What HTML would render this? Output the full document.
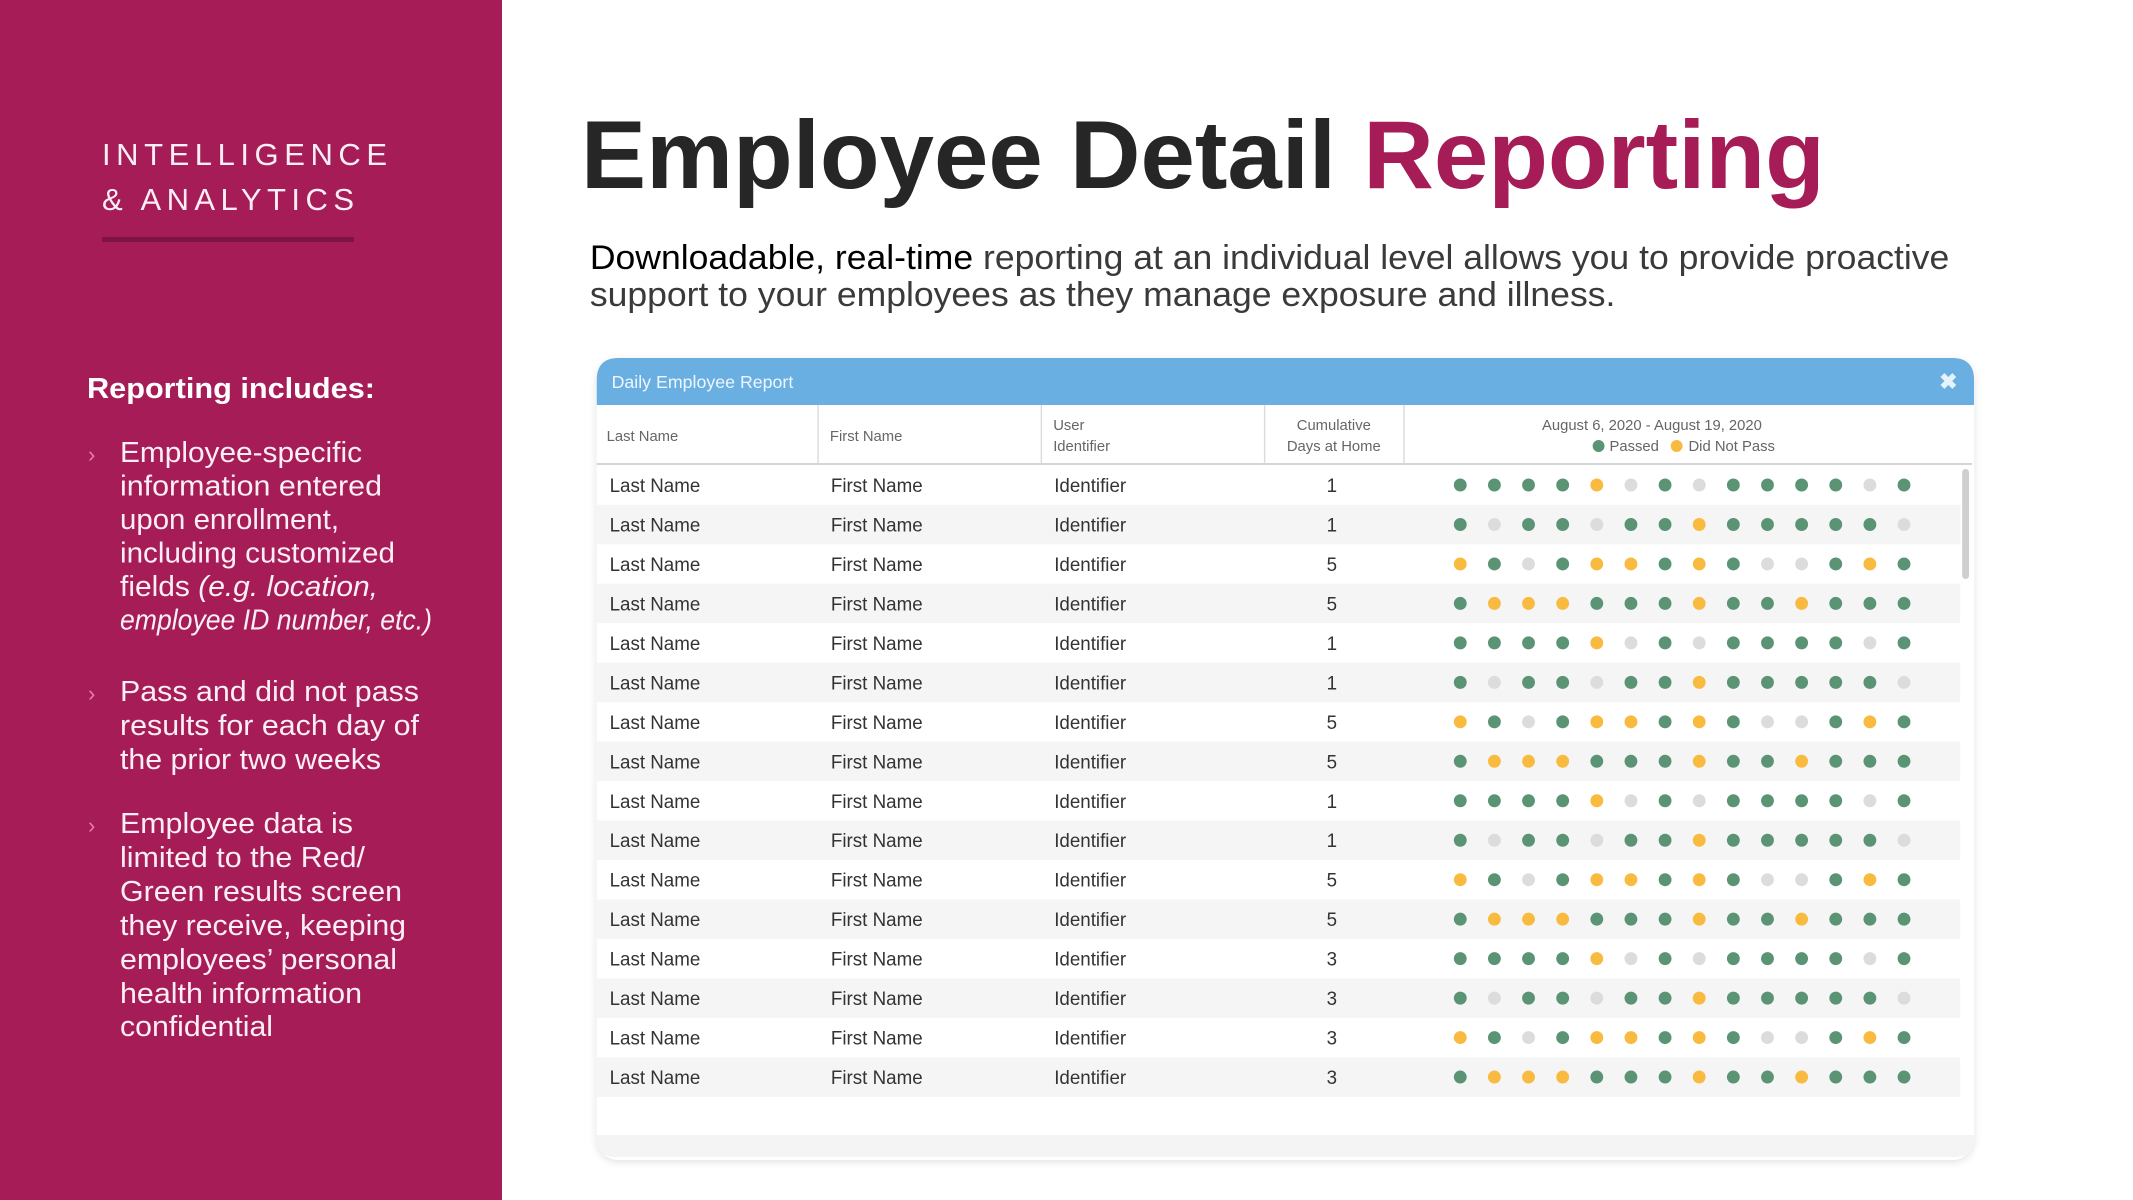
<!DOCTYPE html>
<html><head><meta charset="utf-8"><style>
html,body{margin:0;padding:0;background:#fff;}
svg{display:block;font-family:"Liberation Sans",sans-serif;}
</style></head><body>
<svg id="page" width="2133" height="1200" viewBox="0 0 2133 1200" xmlns="http://www.w3.org/2000/svg">
<defs>
<filter id="sh" x="-5%" y="-5%" width="110%" height="110%"><feDropShadow dx="0" dy="2" stdDeviation="4" flood-color="#000" flood-opacity="0.12"/></filter>
<clipPath id="rowsclip"><rect x="604" y="466" width="1394" height="631"/></clipPath>
</defs>
<rect x="0" y="0" width="502" height="1200" fill="#a51c56"/>
<g fill="#fbeef4" font-size="31">
<text x="102" y="165" textLength="285" lengthAdjust="spacing">INTELLIGENCE</text>
<text x="102" y="210" textLength="252" lengthAdjust="spacing">&amp; ANALYTICS</text>
</g>
<rect x="102" y="237" width="252" height="5" fill="#7d1442"/>
<text x="87" y="398" fill="#fff" font-size="29" font-weight="bold" textLength="288" lengthAdjust="spacingAndGlyphs">Reporting includes:</text>
<g fill="#fbeef4" font-size="29">
<text x="88" y="462" fill="#f07aa8" font-size="22">›</text>
<text x="120" y="462" textLength="242" lengthAdjust="spacingAndGlyphs">Employee-specific</text>
<text x="120" y="495.5" textLength="262" lengthAdjust="spacingAndGlyphs">information entered</text>
<text x="120" y="529" textLength="219" lengthAdjust="spacingAndGlyphs">upon enrollment,</text>
<text x="120" y="562.5" textLength="275" lengthAdjust="spacingAndGlyphs">including customized</text>
<text x="120" y="596" textLength="258" lengthAdjust="spacingAndGlyphs">fields <tspan font-style="italic">(e.g. location,</tspan></text>
<text x="120" y="629.5" font-style="italic" textLength="312" lengthAdjust="spacingAndGlyphs">employee ID number, etc.)</text>
<text x="88" y="701" fill="#f07aa8" font-size="22">›</text>
<text x="120" y="701" textLength="299" lengthAdjust="spacingAndGlyphs">Pass and did not pass</text>
<text x="120" y="735" textLength="299" lengthAdjust="spacingAndGlyphs">results for each day of</text>
<text x="120" y="769" textLength="261" lengthAdjust="spacingAndGlyphs">the prior two weeks</text>
<text x="88" y="833" fill="#f07aa8" font-size="22">›</text>
<text x="120" y="833" textLength="233" lengthAdjust="spacingAndGlyphs">Employee data is</text>
<text x="120" y="867" textLength="245" lengthAdjust="spacingAndGlyphs">limited to the Red/</text>
<text x="120" y="901" textLength="282" lengthAdjust="spacingAndGlyphs">Green results screen</text>
<text x="120" y="935" textLength="286" lengthAdjust="spacingAndGlyphs">they receive, keeping</text>
<text x="120" y="969" textLength="277" lengthAdjust="spacingAndGlyphs">employees’ personal</text>
<text x="120" y="1003" textLength="242" lengthAdjust="spacingAndGlyphs">health information</text>
<text x="120" y="1036" textLength="153" lengthAdjust="spacingAndGlyphs">confidential</text>
</g>
<g transform="scale(0.988 1)">
<text x="588" y="188" font-size="97" font-weight="bold" fill="#262626" textLength="1259" lengthAdjust="spacingAndGlyphs">Employee Detail <tspan fill="#a51c56">Reporting</tspan></text>
<g font-size="34" fill="#3a3a3a">
<text x="597" y="269" textLength="1376" lengthAdjust="spacingAndGlyphs"><tspan fill="#000">Downloadable, real-time</tspan> reporting at an individual level allows you to provide proactive</text>
<text x="597" y="306" textLength="1038" lengthAdjust="spacingAndGlyphs">support to your employees as they manage exposure and illness.</text>
</g>
<g>
<rect x="604" y="358" width="1394" height="802" rx="22" fill="#fff" filter="url(#sh)"/>
<path d="M604 405 V380 Q604 358 626 358 H1976 Q1998 358 1998 380 V405 Z" fill="#6aafe2"/>
<text x="619" y="388" font-size="18" fill="#eef6fd">Daily Employee Report</text>
<text x="1972" y="389" font-size="22" font-weight="bold" fill="#e8f2fb" text-anchor="middle">✖</text>
<g stroke="#dcdcdc" stroke-width="1.5">
<line x1="828" y1="405" x2="828" y2="463"/><line x1="1054" y1="405" x2="1054" y2="463"/><line x1="1280" y1="405" x2="1280" y2="463"/><line x1="1421" y1="405" x2="1421" y2="463"/>
</g>
<line x1="604" y1="464" x2="1996" y2="464" stroke="#d5d5d5" stroke-width="2"/>
<g font-size="15" fill="#666">
<text x="614" y="441">Last Name</text>
<text x="840" y="441">First Name</text>
<text x="1066" y="430">User</text>
<text x="1066" y="451">Identifier</text>
<text x="1350" y="430" text-anchor="middle">Cumulative</text>
<text x="1350" y="451" text-anchor="middle">Days at Home</text>
<text x="1672" y="430" text-anchor="middle">August 6, 2020 - August 19, 2020</text>
<circle cx="1618" cy="446" r="6" fill="#5a9475"/>
<text x="1629" y="451">Passed</text>
<circle cx="1697" cy="446" r="6" fill="#f8bb3f"/>
<text x="1709" y="451">Did Not Pass</text>
</g>
<g id="rows" clip-path="url(#rowsclip)"></g>
<rect x="1986" y="469" width="7" height="110" rx="3.5" fill="#cfcfcf"/>
<path d="M604 1135 H1998 V1138 Q1998 1157 1979 1157 H623 Q604 1157 604 1138 Z" fill="#f4f4f4"/>
</g>
</g>
</svg>
<script>
// 'G' passed, 'Y' did not pass, 'N' no data
const lastNames = ["Last Name","Last Name","Last Name","Last Name","Last Name","Last Name","Last Name","Last Name","Last Name","Last Name","Last Name","Last Name","Last Name","Last Name","Last Name","Last Name","Last Name"];
const cumulativeDays = [1,1,5,5,1,1,5,5,1,1,5,5,3,3,3,3,1];
const statusRows = [
"GGGGYNGNGGGGNG","GNGGNGGYGGGGGN","YGNGYYGYGNNGYG","GYYYGGGYGGYGGG",
"GGGGYNGNGGGGNG","GNGGNGGYGGGGGN","YGNGYYGYGNNGYG","GYYYGGGYGGYGGG",
"GGGGYNGNGGGGNG","GNGGNGGYGGGGGN","YGNGYYGYGNNGYG","GYYYGGGYGGYGGG",
"GGGGYNGNGGGGNG","GNGGNGGYGGGGGN","YGNGYYGYGNNGYG","GYYYGGGYGGYGGG",
"NNNNNNNNNNNNNN"];
const colors = {G:"#5a9475", Y:"#f8bb3f", N:"#dcdcdc"};
const NS = "http://www.w3.org/2000/svg";
const rowY = i => 485 + i * 39.47;
const dayX = d => 1478 + d * 34.55;
const g = document.getElementById('rows');
function mk(tag, attrs){ const e = document.createElementNS(NS, tag); for (const k in attrs) e.setAttribute(k, attrs[k]); return e; }
statusRows.forEach((s, i) => {
  const cy = rowY(i);
  const row = mk('g', {});
  
  
  if (i % 2 === 1) row.appendChild(mk('rect', {x:604, y:cy-19.7, width:1380, height:39.5, fill:'#f5f5f5'}));
  const cells = [[617, lastNames[i], 'start'], [841, 'First Name', 'start'], [1067, 'Identifier', 'start'], [1348, String(cumulativeDays[i]), 'middle']];
  cells.forEach(c => {
    const t = mk('text', {x:c[0], y:cy+7, 'font-size':19, fill:'#333', 'text-anchor':c[2]});
    
    
    t.textContent = c[1];
    row.appendChild(t);
  });
  s.split('').forEach((ch, d) => {
    const c = mk('circle', {cx:dayX(d), cy:cy, r:6.5, fill:colors[ch]});
    
    
    row.appendChild(c);
  });
  g.appendChild(row);
});
</script>
</body></html>
